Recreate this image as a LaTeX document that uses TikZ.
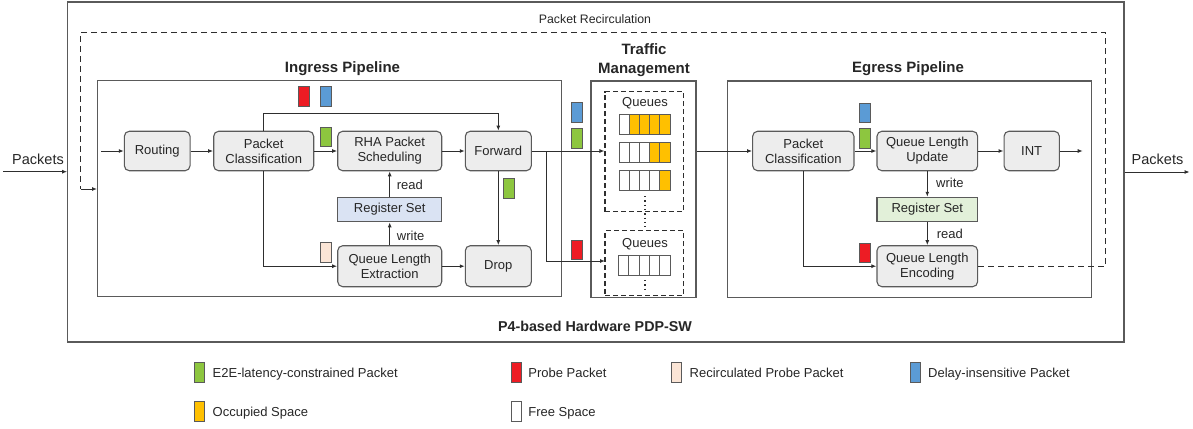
\documentclass[tikz,border=0pt]{standalone}
\usepackage{fontspec}
\setmainfont{Liberation Sans}
\usetikzlibrary{arrows.meta,calc}
\definecolor{nodefill}{HTML}{EDEDED}
\definecolor{edge}{HTML}{5A5A5A}
\definecolor{txt}{HTML}{262626}
\definecolor{lin}{HTML}{2E2E2E}
\definecolor{cred}{HTML}{ED1C24}
\definecolor{cblue}{HTML}{5B9BD5}
\definecolor{cgreen}{HTML}{8DC63F}
\definecolor{cpeach}{HTML}{FBE5D6}
\definecolor{qyel}{HTML}{FFC000}
\definecolor{rsblue}{HTML}{DAE3F3}
\definecolor{rsgreen}{HTML}{E2F0D9}
\newcommand\fsn{\fontsize{13}{15}\selectfont}
\newcommand\fsb{\fontsize{15}{18}\selectfont\bfseries}
\tikzset{
  blk/.style={draw=edge, fill=nodefill, rounded corners=5pt, line width=1.1pt, inner sep=0pt, align=center, font=\fsn, text=txt},
  regbox/.style={draw=edge, line width=1.1pt, inner sep=0pt, align=center, font=\fsn, text=txt},
  sz/.style 2 args={minimum width=#1pt, minimum height=#2pt},
  frame/.style={draw=edge, line width=1.2pt, inner sep=0pt},
  qframe/.style={draw=lin, line width=1.1pt, dash pattern=on 5pt off 3pt, inner sep=0pt},
  arr/.style={-{Latex[length=5pt,width=4pt]}, line width=1pt, draw=lin},
  dsh/.style={line width=1.1pt, draw=lin, dash pattern=on 6pt off 4pt},
  pkt/.style={draw=edge, line width=0.7pt, minimum width=11pt, minimum height=19.5pt, inner sep=0pt},
  swatch/.style={draw=edge, line width=0.7pt, minimum width=10pt, minimum height=20pt, inner sep=0pt},
  lbl/.style={font=\fsn, text=txt, inner sep=0pt},
  title/.style={font=\fsb, text=txt, inner sep=0pt, align=center},
  cell/.style={draw=edge, line width=0.9pt},
  dotl/.style={draw=lin, line width=1.3pt, dash pattern=on 1.3pt off 3pt},
}
\begin{document}
\begin{tikzpicture}[x=1pt,y=-1pt]
\useasboundingbox (0,0) rectangle (1193,428);

% frames
\node[frame, sz={1056.3}{340}] (outer) at (595.85,172) {};
\node[frame, sz={463.6}{216}] (ing) at (329.4,188.7) {};
\node[frame, sz={105}{216.3}] (tm) at (643.5,189.15) {};
\node[frame, sz={364.4}{216.3}] (egr) at (909.5,189.15) {};
\node[qframe, sz={78.3}{120}] (q1) at (644.15,151.7) {};
\node[qframe, sz={78.3}{65}] (q2) at (644.15,263.2) {};

% titles
\node[lbl, font=\fontsize{12.3}{14}\selectfont] (trec) at (595,19.3) {Packet Recirculation};
\node[title] (ting) at (342.5,69) {Ingress Pipeline};
\node[title, font=\fontsize{15}{18.3}\selectfont\bfseries] (ttm) at (644,60.2) {Traffic\\Management};
\node[title] (tegr) at (908,69) {Egress Pipeline};
\node[title, font=\fontsize{14.3}{17}\selectfont\bfseries] (tp4) at (595,326.7) {P4-based Hardware PDP-SW};
\node[lbl, font=\fontsize{14.5}{17}\selectfont] (pin) at (38,159) {Packets};
\node[lbl, font=\fontsize{14.5}{17}\selectfont] (pout) at (1157.5,159) {Packets};

% ingress nodes
\node[blk, sz={65.7}{39.5}] (routing) at (157.2,151) {Routing};
\node[blk, sz={100}{39.5}] (pc1) at (263.7,151) {Packet\\Classification};
\node[blk, sz={104}{39.5}] (rha) at (389.7,151) {RHA Packet\\Scheduling};
\node[blk, sz={66}{39.5}] (fwd) at (498.3,151) {Forward};
\node[regbox, fill=rsblue, sz={104}{24.7}] (rs1) at (389.7,209.4) {Register Set};
\node[blk, sz={104}{41}] (qle) at (389.7,266.2) {Queue Length\\Extraction};
\node[blk, sz={66}{41}] (drop) at (498.3,266.2) {Drop};

% egress nodes
\node[blk, sz={101.3}{39.5}] (pc2) at (803.3,151) {Packet\\Classification};
\node[blk, sz={100.7}{39.5}] (qlu) at (927.3,151) {Queue Length\\Update};
\node[blk, sz={55.3}{39.5}] (int) at (1031.7,151) {INT};
\node[regbox, fill=rsgreen, sz={100.7}{24.4}] (rs2) at (927.3,209.5) {Register Set};
\node[blk, sz={100.7}{41}] (qle2) at (927.3,266.2) {Queue Length\\Encoding};

% queues
\node[lbl] (qt1) at (645,103.3) {Queues};
\node[lbl] (qt2) at (645,244) {Queues};
\foreach \i/\c in {0/white,1/qyel,2/qyel,3/qyel,4/qyel}
  \draw[cell, fill=\c] ({619+\i*10.2},114) rectangle ++(10.2,20);
\foreach \i/\c in {0/white,1/white,2/white,3/qyel,4/qyel}
  \draw[cell, fill=\c] ({619+\i*10.2},142.3) rectangle ++(10.2,20);
\foreach \i/\c in {0/white,1/white,2/white,3/white,4/qyel}
  \draw[cell, fill=\c] ({619+\i*10.2},170) rectangle ++(10.2,20);
\foreach \i in {0,...,4}
  \draw[cell, fill=white] ({618.5+\i*10.3},255.7) rectangle ++(10.3,20);
\draw[dotl] (645,196) -- (645,228);
\draw[dotl] (645,280) -- (645,291);

% coordinates
\coordinate (instart) at (3,171.7);
\coordinate (ingin) at (101,151);
\coordinate (split) at (546.7,151);
\coordinate (q2in) at (605,261);
\coordinate (intout) at (1082.7,151);
\coordinate (rc1) at (1105.7,266.2);
\coordinate (rc2) at (1105.7,32.3);
\coordinate (rc3) at (80.7,32.3);
\coordinate (rc4) at (80.7,189);

% ingress connectors
\draw[arr] (instart) -- (instart -| outer.west);
\draw[arr] (ingin) -- (routing.west);
\draw[arr] (routing) -- (pc1);
\draw[arr] (pc1) -- (rha);
\draw[arr] (rha) -- (fwd);
\draw[arr] (fwd) -- (drop);
\draw[arr] (qle) -- (drop);
\draw[arr] (qle) -- (rs1);
\draw[arr] (rs1) -- (rha);
\draw[arr] (pc1.north) -- ++(0,-17.3) -| (fwd.north);
\draw[arr] (pc1.south) |- (qle.west);
\draw[arr] (fwd.east) -- (fwd.east -| q1.west);
\draw[arr] (split) |- (q2in);
\draw[arr] (tm.east |- pc2.west) -- (pc2.west);

% egress connectors
\draw[arr] (pc2) -- (qlu);
\draw[arr] (qlu) -- (int);
\draw[arr] (int.east) -- (intout);
\draw[arr] (qlu) -- (rs2);
\draw[arr] (rs2) -- (qle2);
\draw[arr] (pc2.south) |- (qle2.west);
\draw[arr] (outer.east) -- ++(65,0) coordinate (outend);

% recirculation
\draw[dsh] (qle2.east) -- (rc1) -- (rc2) -- (rc3) -- (rc4);
\draw[arr] (rc4) -- (rc4 -| ing.west);

% read / write labels
\node[lbl, anchor=base west] (r1) at (396.7,189.3) {read};
\node[lbl, anchor=base west] (w1) at (396.7,240.7) {write};
\node[lbl, anchor=base west] (w2) at (936,187.7) {write};
\node[lbl, anchor=base west] (r2) at (936.7,238.3) {read};

% packets
\node[pkt, fill=cred] (p1) at (303.8,96.2) {};
\node[pkt, fill=cblue] (p2) at (326.2,96.2) {};
\node[pkt, fill=cgreen] (p3) at (326.2,136.7) {};
\node[pkt, fill=cpeach] (p4) at (326.2,252.3) {};
\node[pkt, fill=cgreen] (p5) at (508.5,188.3) {};
\node[pkt, fill=cblue] (p6) at (576.8,112.5) {};
\node[pkt, fill=cgreen] (p7) at (576.8,138.2) {};
\node[pkt, fill=cred] (p8) at (576.8,250) {};
\node[pkt, fill=cblue] (p9) at (864.7,112.7) {};
\node[pkt, fill=cgreen] (p10) at (864.7,138.3) {};
\node[pkt, fill=cred] (p11) at (864.7,253) {};

% legend
\node[swatch, fill=cgreen] (s1) at (199,372.3) {};
\node[lbl, anchor=base west] (l1) at (212.5,377) {E2E-latency-constrained Packet};
\node[swatch, fill=cred] (s2) at (516,372.3) {};
\node[lbl, anchor=base west] (l2) at (528.2,377) {Probe Packet};
\node[swatch, fill=cpeach] (s3) at (676.5,372.3) {};
\node[lbl, anchor=base west] (l3) at (689.5,377) {Recirculated Probe Packet};
\node[swatch, fill=cblue] (s4) at (915,372.3) {};
\node[lbl, anchor=base west] (l4) at (928,377) {Delay-insensitive Packet};
\node[swatch, fill=qyel] (s5) at (199,411.7) {};
\node[lbl, anchor=base west] (l5) at (212.5,416.4) {Occupied Space};
\node[swatch, fill=white] (s6) at (516,411.7) {};
\node[lbl, anchor=base west] (l6) at (528.2,416.4) {Free Space};
\end{tikzpicture}
\end{document}
